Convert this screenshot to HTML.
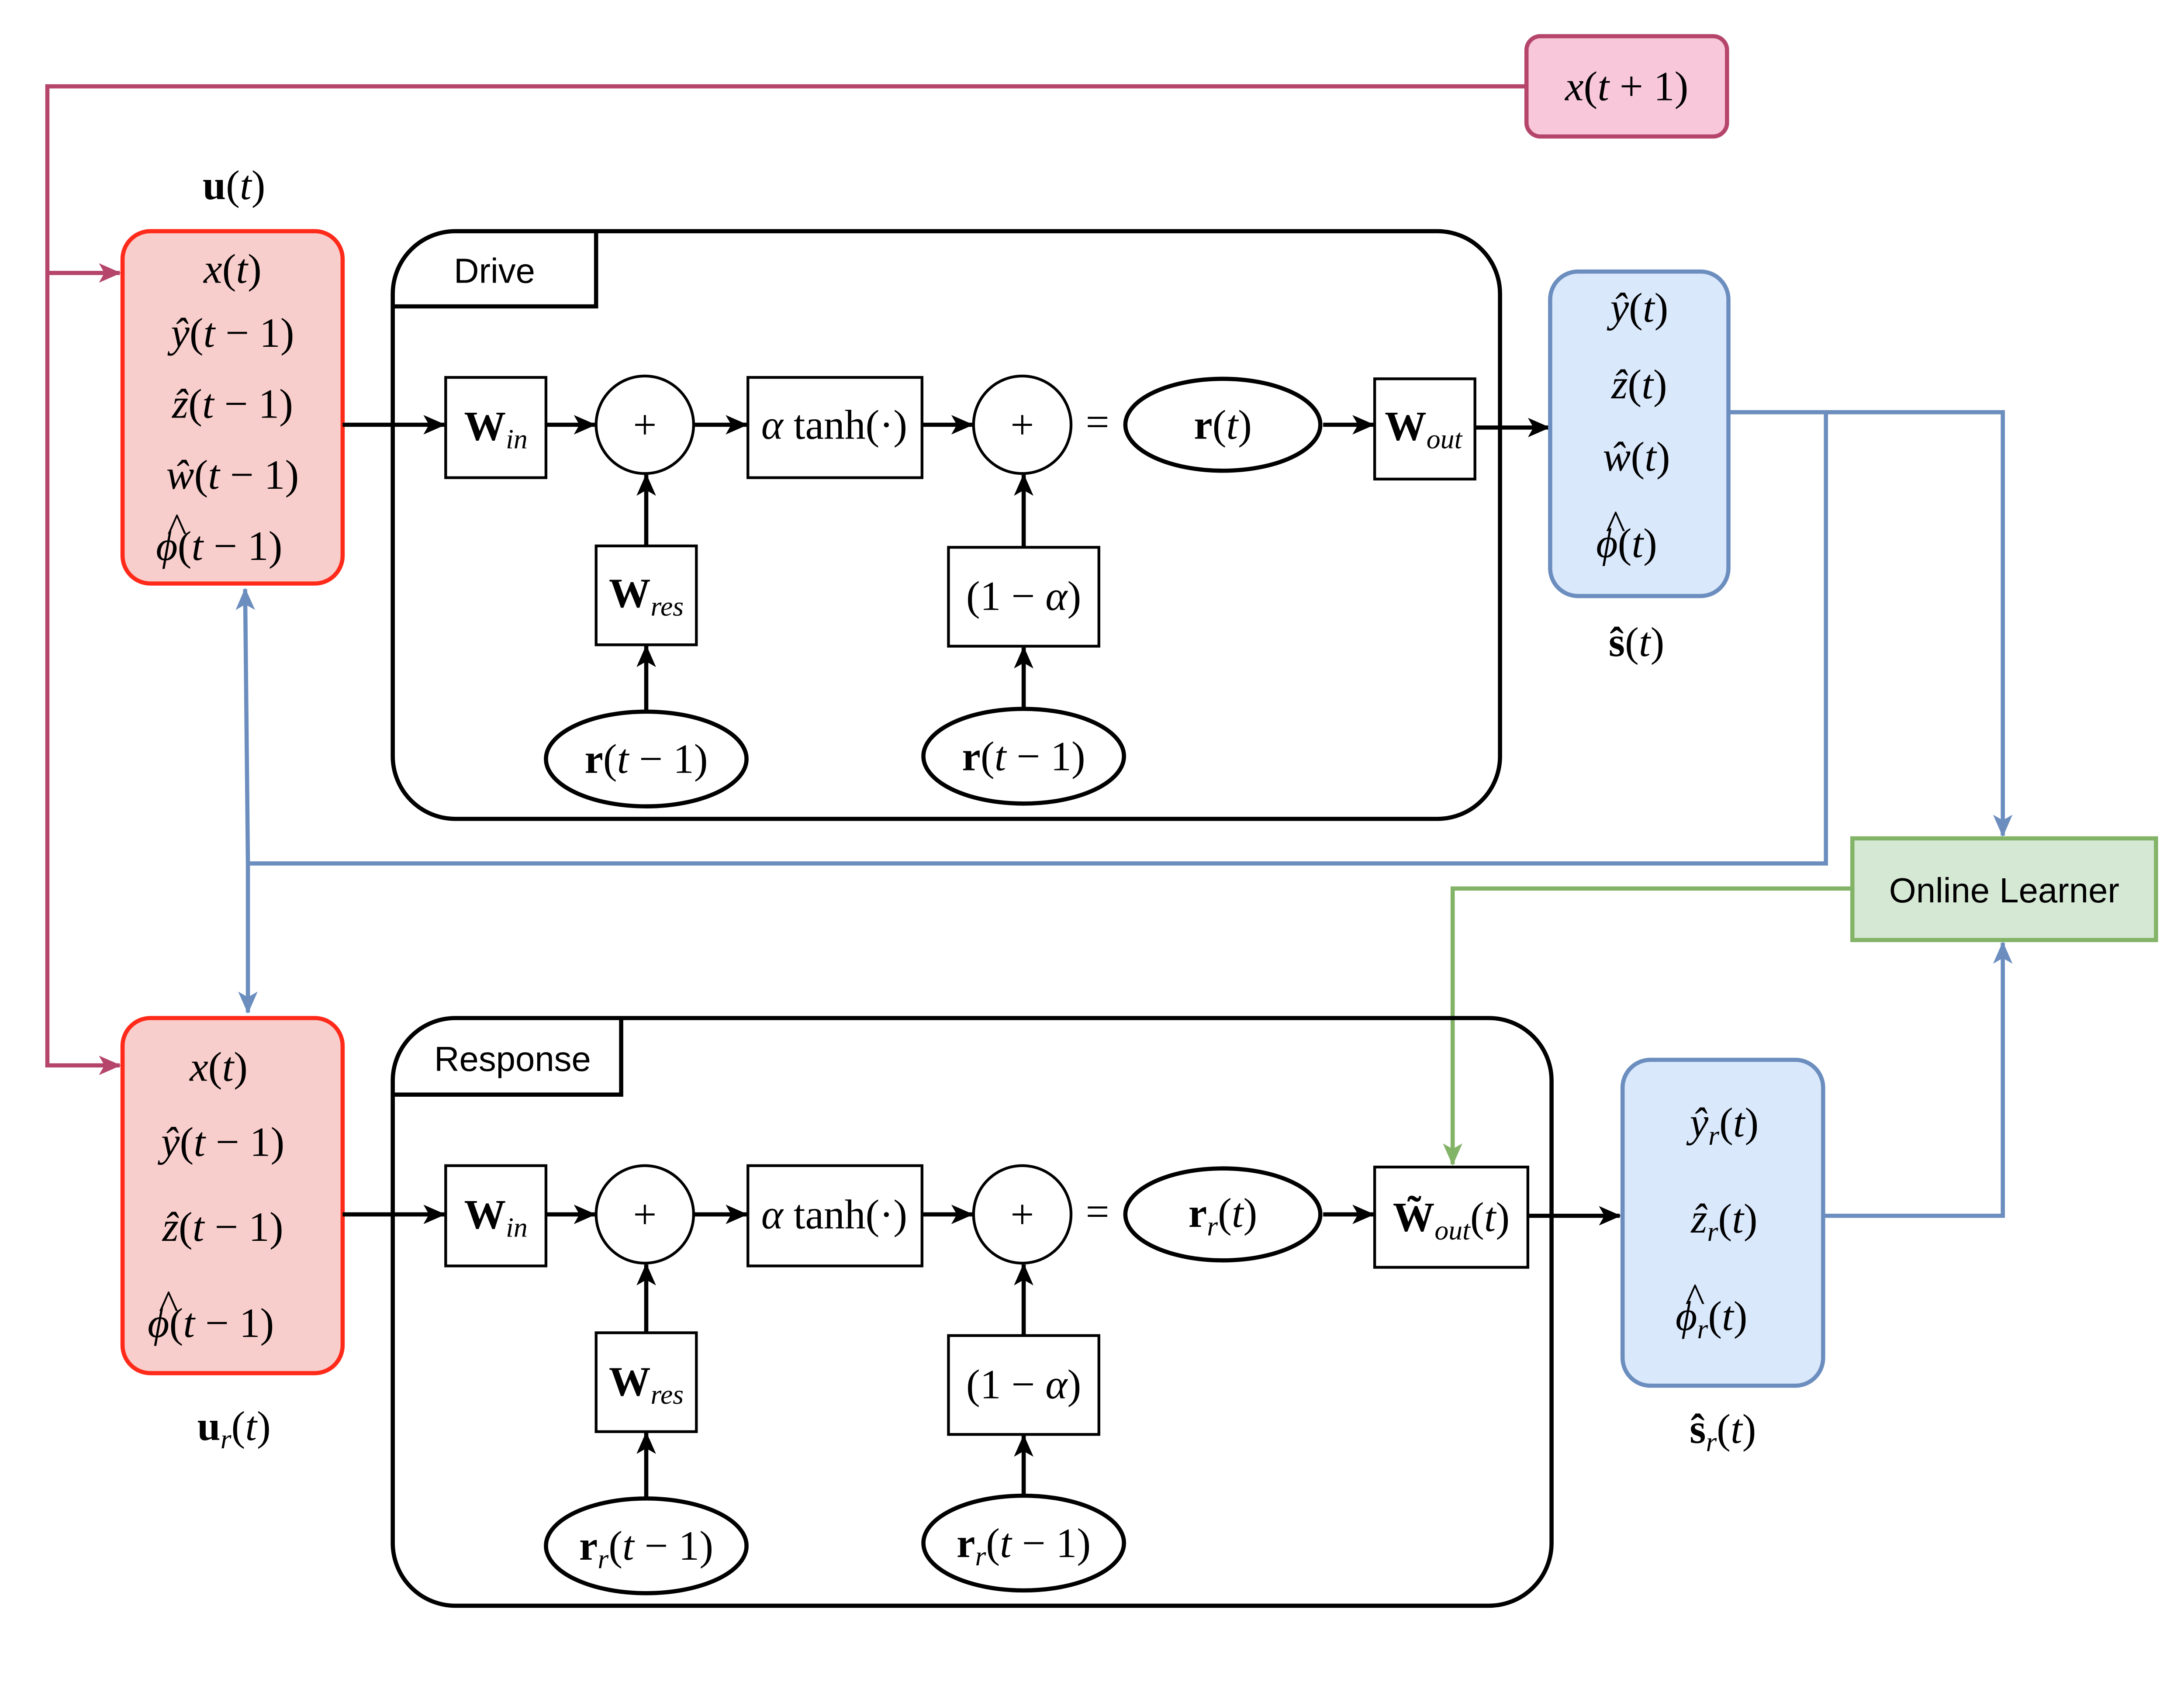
<!DOCTYPE html>
<html><head><meta charset="utf-8"><style>
html,body{margin:0;padding:0;background:#fff;overflow:hidden;}
svg{display:block;}
.m{font-family:"Liberation Serif",serif;font-size:30px;}
.s{font-family:"Liberation Sans",sans-serif;font-size:25px;}
</style></head><body>
<svg width="5220" height="3906" viewBox="0 0 1637 1225" preserveAspectRatio="xMinYMin meet" xmlns="http://www.w3.org/2000/svg">
<defs>
<marker id="ak" markerWidth="16" markerHeight="16" refX="15" refY="8" orient="auto" markerUnits="userSpaceOnUse" viewBox="0 0 16 16"><path d="M0,1 L16,8 L0,15 L4,8z" fill="#000"/></marker>
<marker id="am" markerWidth="16" markerHeight="16" refX="15" refY="8" orient="auto" markerUnits="userSpaceOnUse" viewBox="0 0 16 16"><path d="M0,1 L16,8 L0,15 L4,8z" fill="#b5456b"/></marker>
<marker id="abl" markerWidth="16" markerHeight="16" refX="15" refY="8" orient="auto" markerUnits="userSpaceOnUse" viewBox="0 0 16 16"><path d="M0,1 L16,8 L0,15 L4,8z" fill="#6c8ebf"/></marker>
<marker id="ag" markerWidth="16" markerHeight="16" refX="15" refY="8" orient="auto" markerUnits="userSpaceOnUse" viewBox="0 0 16 16"><path d="M0,1 L16,8 L0,15 L4,8z" fill="#82b366"/></marker>
</defs>
<rect width="1637" height="1225" fill="#fff"/>

<rect x="1096" y="26" width="144" height="72" rx="10" fill="#f8c8da" stroke="#b5456b" stroke-width="3"/>
<text class="m" x="1168" y="72" text-anchor="middle"><tspan font-style="italic">x</tspan>(<tspan font-style="italic">t</tspan> + 1)</text>
<polyline points="1096,62 34,62 34,765 86,765" fill="none" stroke="#b5456b" stroke-width="3" marker-end="url(#am)"/>
<line x1="34" y1="196" x2="86" y2="196" stroke="#b5456b" stroke-width="3" marker-end="url(#am)"/>

<polyline points="1241,296 1438,296 1438,600" fill="none" stroke="#6c8ebf" stroke-width="3" marker-end="url(#abl)"/>
<polyline points="1311,296 1311,620 178,620" fill="none" stroke="#6c8ebf" stroke-width="3"/>
<line x1="178" y1="620" x2="176" y2="423" stroke="#6c8ebf" stroke-width="3" marker-end="url(#abl)"/>
<line x1="178" y1="620" x2="178" y2="727" stroke="#6c8ebf" stroke-width="3" marker-end="url(#abl)"/>
<polyline points="1309,873 1438,873 1438,677" fill="none" stroke="#6c8ebf" stroke-width="3" marker-end="url(#abl)"/>
<polyline points="1330,638 1043,638 1043,836" fill="none" stroke="#82b366" stroke-width="3" marker-end="url(#ag)"/>
<rect x="1330" y="602" width="218" height="73" fill="#d5e8d4" stroke="#82b366" stroke-width="3"/>
<text class="s" x="1439" y="648" text-anchor="middle">Online Learner</text>

<text class="m" x="168" y="143" text-anchor="middle"><tspan font-weight="bold">u</tspan>(<tspan font-style="italic">t</tspan>)</text>
<rect x="88" y="166" width="158" height="253" rx="20" fill="#f8cecc" stroke="#ff2a1a" stroke-width="3"/>
<g class="m" text-anchor="middle">
<text x="167" y="203"><tspan font-style="italic">x</tspan>(<tspan font-style="italic">t</tspan>)</text>
<text x="167" y="249"><tspan font-style="italic">ŷ</tspan>(<tspan font-style="italic">t</tspan> − 1)</text>
<text x="167" y="300"><tspan font-style="italic">ẑ</tspan>(<tspan font-style="italic">t</tspan> − 1)</text>
<text x="167" y="351"><tspan font-style="italic">ŵ</tspan>(<tspan font-style="italic">t</tspan> − 1)</text>
</g>
<text class="m" x="112" y="402"><tspan font-style="italic">ϕ</tspan>(<tspan font-style="italic">t</tspan> − 1)</text>
<text class="m" x="120" y="389" font-size="22">^</text>
<rect x="282" y="166" width="795" height="422" rx="45" fill="none" stroke="#000" stroke-width="3"/>
<path d="M282,220 L428,220 L428,166" fill="none" stroke="#000" stroke-width="3"/>
<text class="s" x="355" y="203" text-anchor="middle">Drive</text>

<g stroke="#000" stroke-width="3" fill="none">
<line x1="246" y1="305" x2="319" y2="305" marker-end="url(#ak)"/>
<line x1="392" y1="305" x2="427" y2="305" marker-end="url(#ak)"/>
<line x1="498" y1="305" x2="536" y2="305" marker-end="url(#ak)"/>
<line x1="662" y1="305" x2="698" y2="305" marker-end="url(#ak)"/>
<line x1="950" y1="305" x2="986" y2="305" marker-end="url(#ak)"/>
<line x1="1059" y1="307" x2="1112" y2="307" marker-end="url(#ak)"/>
<line x1="464" y1="511" x2="464" y2="464" marker-end="url(#ak)"/>
<line x1="464" y1="392" x2="464" y2="341" marker-end="url(#ak)"/>
<line x1="735" y1="509" x2="735" y2="465" marker-end="url(#ak)"/>
<line x1="735" y1="393" x2="735" y2="341" marker-end="url(#ak)"/>
</g>
<g stroke="#000" stroke-width="2" fill="#fff">
<rect x="320" y="271" width="72" height="72"/>
<circle cx="463" cy="305" r="35"/>
<rect x="537" y="271" width="125" height="72"/>
<circle cx="734" cy="305" r="35"/>
<rect x="987" y="272" width="72" height="72"/>
<rect x="428" y="392" width="72" height="71"/>
<rect x="681" y="393" width="108" height="71"/>
</g>
<g stroke="#000" stroke-width="3" fill="#fff">
<ellipse cx="878" cy="305" rx="70" ry="33"/>
<ellipse cx="464" cy="545" rx="72" ry="34"/>
<ellipse cx="735" cy="543" rx="72" ry="34"/>
</g>
<g class="m" text-anchor="middle">
<text x="356" y="316"><tspan font-weight="bold">W</tspan><tspan font-style="italic" font-size="20" dy="6">in</tspan></text>
<text x="463" y="315">+</text>
<text x="599" y="315"><tspan font-style="italic">α</tspan> tanh(·)</text>
<text x="734" y="315">+</text>
<text x="788" y="313">=</text>
<text x="878" y="315"><tspan font-weight="bold">r</tspan>(<tspan font-style="italic">t</tspan>)</text>
<text x="1022" y="316"><tspan font-weight="bold">W</tspan><tspan font-style="italic" font-size="20" dy="6">out</tspan></text>
<text x="464" y="436"><tspan font-weight="bold">W</tspan><tspan font-style="italic" font-size="20" dy="6">res</tspan></text>
<text x="735" y="438">(1 − <tspan font-style="italic">α</tspan>)</text>
<text x="464" y="555"><tspan font-weight="bold">r</tspan>(<tspan font-style="italic">t</tspan> − 1)</text>
<text x="735" y="553"><tspan font-weight="bold">r</tspan>(<tspan font-style="italic">t</tspan> − 1)</text>
</g>
<rect x="1113" y="195" width="128" height="233" rx="20" fill="#dae8fc" stroke="#6c8ebf" stroke-width="3"/>
<g class="m" text-anchor="middle">
<text x="1177" y="231"><tspan font-style="italic">ŷ</tspan>(<tspan font-style="italic">t</tspan>)</text>
<text x="1177" y="286"><tspan font-style="italic">ẑ</tspan>(<tspan font-style="italic">t</tspan>)</text>
<text x="1175" y="338"><tspan font-style="italic">ŵ</tspan>(<tspan font-style="italic">t</tspan>)</text>
<text x="1175" y="471"><tspan font-weight="bold">ŝ</tspan>(<tspan font-style="italic">t</tspan>)</text>
</g>
<text class="m" x="1146" y="400"><tspan font-style="italic">ϕ</tspan>(<tspan font-style="italic">t</tspan>)</text>
<text class="m" x="1153" y="387" font-size="22">^</text>

<rect x="88" y="731" width="158" height="255" rx="20" fill="#f8cecc" stroke="#ff2a1a" stroke-width="3"/>
<g class="m" text-anchor="middle">
<text x="157" y="776"><tspan font-style="italic">x</tspan>(<tspan font-style="italic">t</tspan>)</text>
<text x="160" y="830"><tspan font-style="italic">ŷ</tspan>(<tspan font-style="italic">t</tspan> − 1)</text>
<text x="160" y="891"><tspan font-style="italic">ẑ</tspan>(<tspan font-style="italic">t</tspan> − 1)</text>
<text x="168" y="1034"><tspan font-weight="bold">u</tspan><tspan font-style="italic" font-size="20" dy="6">r</tspan><tspan dy="-6">(</tspan><tspan font-style="italic">t</tspan>)</text>
</g>
<text class="m" x="106" y="960"><tspan font-style="italic">ϕ</tspan>(<tspan font-style="italic">t</tspan> − 1)</text>
<text class="m" x="114" y="947" font-size="22">^</text>
<rect x="282" y="731" width="832" height="422" rx="45" fill="none" stroke="#000" stroke-width="3"/>
<path d="M282,786 L446,786 L446,731" fill="none" stroke="#000" stroke-width="3"/>
<text class="s" x="368" y="769" text-anchor="middle">Response</text>

<g stroke="#000" stroke-width="3" fill="none">
<line x1="246" y1="872" x2="319" y2="872" marker-end="url(#ak)"/>
<line x1="392" y1="872" x2="427" y2="872" marker-end="url(#ak)"/>
<line x1="498" y1="872" x2="536" y2="872" marker-end="url(#ak)"/>
<line x1="662" y1="872" x2="698" y2="872" marker-end="url(#ak)"/>
<line x1="950" y1="872" x2="986" y2="872" marker-end="url(#ak)"/>
<line x1="1097" y1="873" x2="1163" y2="873" marker-end="url(#ak)"/>
<line x1="464" y1="1076" x2="464" y2="1029" marker-end="url(#ak)"/>
<line x1="464" y1="957" x2="464" y2="908" marker-end="url(#ak)"/>
<line x1="735" y1="1074" x2="735" y2="1031" marker-end="url(#ak)"/>
<line x1="735" y1="959" x2="735" y2="908" marker-end="url(#ak)"/>
</g>
<g stroke="#000" stroke-width="2" fill="#fff">
<rect x="320" y="837" width="72" height="72"/>
<circle cx="463" cy="872" r="35"/>
<rect x="537" y="837" width="125" height="72"/>
<circle cx="734" cy="872" r="35"/>
<rect x="987" y="838" width="110" height="72"/>
<rect x="428" y="957" width="72" height="71"/>
<rect x="681" y="959" width="108" height="71"/>
</g>
<g stroke="#000" stroke-width="3" fill="#fff">
<ellipse cx="878" cy="872" rx="70" ry="33"/>
<ellipse cx="464" cy="1110" rx="72" ry="34"/>
<ellipse cx="735" cy="1108" rx="72" ry="34"/>
</g>
<g class="m" text-anchor="middle">
<text x="356" y="882"><tspan font-weight="bold">W</tspan><tspan font-style="italic" font-size="20" dy="6">in</tspan></text>
<text x="463" y="882">+</text>
<text x="599" y="882"><tspan font-style="italic">α</tspan> tanh(·)</text>
<text x="734" y="882">+</text>
<text x="788" y="880">=</text>
<text x="878" y="881"><tspan font-weight="bold">r</tspan><tspan font-style="italic" font-size="20" dy="6">r</tspan><tspan dy="-6">(</tspan><tspan font-style="italic">t</tspan>)</text>
<text x="1042" y="884"><tspan font-weight="bold">W̃</tspan><tspan font-style="italic" font-size="20" dy="6">out</tspan><tspan dy="-6">(</tspan><tspan font-style="italic">t</tspan>)</text>
<text x="464" y="1002"><tspan font-weight="bold">W</tspan><tspan font-style="italic" font-size="20" dy="6">res</tspan></text>
<text x="735" y="1004">(1 − <tspan font-style="italic">α</tspan>)</text>
<text x="464" y="1120"><tspan font-weight="bold">r</tspan><tspan font-style="italic" font-size="20" dy="6">r</tspan><tspan dy="-6">(</tspan><tspan font-style="italic">t</tspan> − 1)</text>
<text x="735" y="1118"><tspan font-weight="bold">r</tspan><tspan font-style="italic" font-size="20" dy="6">r</tspan><tspan dy="-6">(</tspan><tspan font-style="italic">t</tspan> − 1)</text>
</g>
<rect x="1165" y="761" width="144" height="234" rx="20" fill="#dae8fc" stroke="#6c8ebf" stroke-width="3"/>
<g class="m" text-anchor="middle">
<text x="1238" y="816"><tspan font-style="italic">ŷ</tspan><tspan font-style="italic" font-size="20" dy="6">r</tspan><tspan dy="-6">(</tspan><tspan font-style="italic">t</tspan>)</text>
<text x="1238" y="885"><tspan font-style="italic">ẑ</tspan><tspan font-style="italic" font-size="20" dy="6">r</tspan><tspan dy="-6">(</tspan><tspan font-style="italic">t</tspan>)</text>
<text x="1237" y="1036"><tspan font-weight="bold">ŝ</tspan><tspan font-style="italic" font-size="20" dy="6">r</tspan><tspan dy="-6">(</tspan><tspan font-style="italic">t</tspan>)</text>
</g>
<text class="m" x="1203" y="955"><tspan font-style="italic">ϕ</tspan><tspan font-style="italic" font-size="20" dy="6">r</tspan><tspan dy="-6">(</tspan><tspan font-style="italic">t</tspan>)</text>
<text class="m" x="1210" y="942" font-size="22">^</text>
</svg>
</body></html>
